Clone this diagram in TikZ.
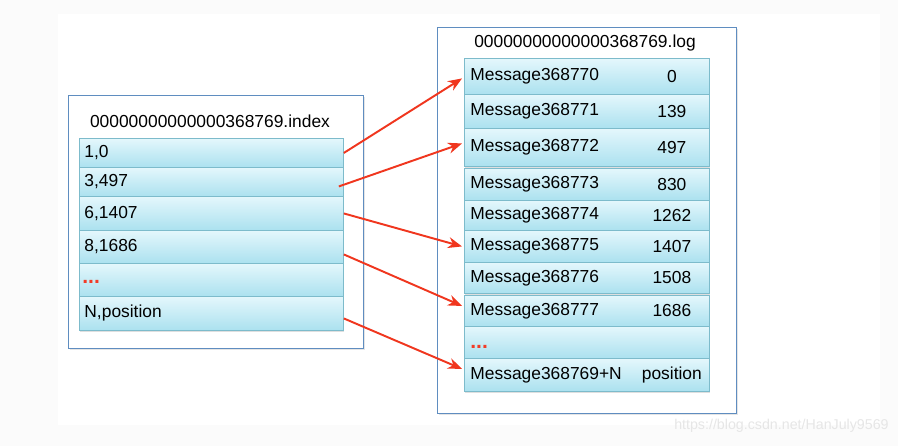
\documentclass[tikz,border=0pt]{standalone}
\usepackage{fontspec}
\setmainfont{Liberation Sans}
\usetikzlibrary{arrows.meta,shadows}

\definecolor{pagegray}{HTML}{FBFBFB}
\definecolor{celltop}{HTML}{E4F7FC}
\definecolor{cellbot}{HTML}{ABE1EF}
\definecolor{cellline}{HTML}{7DBBCB}
\definecolor{boxline}{HTML}{5F8DC0}
\definecolor{arrowred}{HTML}{F0361E}
\definecolor{dotred}{HTML}{F23C28}
\definecolor{markgray}{HTML}{E6E6E6}

\tikzset{
  txt/.style={font=\fontsize{9.9}{12}\selectfont, inner sep=0pt},
  outerbox/.style={draw=boxline, line width=0.6pt, fill=white, anchor=north west,
    inner sep=0pt, drop shadow={shadow xshift=0.6pt, shadow yshift=-0.6pt, opacity=0.2}},
  idxcell/.style={txt, draw=cellline, line width=0.5pt, top color=celltop, bottom color=cellbot,
    anchor=north west, minimum width=5.28cm, text width=5.08cm, inner xsep=0.1cm,
    inner ysep=0pt, align=left,
    drop shadow={shadow xshift=0.3pt, shadow yshift=-0.8pt, opacity=0.25}},
  msgcell/.style={idxcell, minimum width=4.9cm, text width=4.66cm, inner xsep=0.12cm},
  reddots/.style={txt, text=dotred, font=\fontsize{12}{12}\selectfont\bfseries, anchor=west},
  ptr/.style={draw=arrowred, line width=1.1pt, -{Stealth[length=0.28cm, width=0.22cm]}}
}

\begin{document}
\begin{tikzpicture}[x=0.02cm, y=-0.02cm]
\useasboundingbox (0,0) rectangle (898,446);
\fill[pagegray] (0,0) rectangle (898,446);
\fill[white] (58,14) rectangle (880,425);

% index file
\node[outerbox, minimum width=5.9cm, minimum height=5.06cm] (idxbox) at (68,95) {};
\node[txt] (idxtitle) at (210,121) {00000000000000368769.index};
\foreach \y/\hh/\lab [count=\i] in {138/29/{1,0}, 167/29/{3,497}, 196/34/{6,1407},
    230/33/{8,1686}, 263/33/{}, 296/34/{N,position}}
  \node[idxcell, minimum height=\hh*0.02cm] (idx\i) at (79,\y) {\lab};
\node[reddots] (idxdots) at (82,282) {...};

% log file
\node[outerbox, minimum width=5.98cm, minimum height=7.72cm] (logbox) at (437,27) {};
\node[txt] (logtitle) at (585,43) {00000000000000368769.log};
\foreach \y/\hh/\lab/\pos [count=\i] in {58/36/Message368770/0, 94/34/Message368771/139,
    128/38/Message368772/497, 168/32/Message368773/830, 200/30/Message368774/1262,
    230/32/Message368775/1407, 262/31/Message368776/1508, 295/31/Message368777/1686,
    326/32/{}/{}, 358/33/Message368769+N/position}
{
  \node[msgcell, minimum height=\hh*0.02cm] (msg\i) at (464,\y) {\lab};
  \node[txt] (num\i) at ([xshift=-0.76cm]msg\i.east) {\pos};
}
\node[reddots] (msgdots) at (470,347) {...};

% pointers
\draw[ptr] (idx1.east) -- ([xshift=-0.04cm,yshift=-0.04cm]msg1.west);
\draw[ptr] ([xshift=-0.1cm,yshift=-0.09cm]idx2.east) -- ([xshift=-0.04cm,yshift=0.08cm]msg3.west);
\draw[ptr] (idx3.east) -- ([xshift=-0.04cm]msg6.west);
\draw[ptr] ([yshift=-0.15cm]idx4.east) -- ([xshift=-0.04cm,yshift=0.1cm]msg8.west);
\draw[ptr] ([yshift=-0.1cm]idx6.east) -- ([xshift=-0.04cm,yshift=0.12cm]msg10.west);

\node[txt, text=markgray, font=\fontsize{8.1}{10}\selectfont, anchor=east] (mark) at (889,426)
  {https://blog.csdn.net/HanJuly9569};
\end{tikzpicture}
\end{document}
